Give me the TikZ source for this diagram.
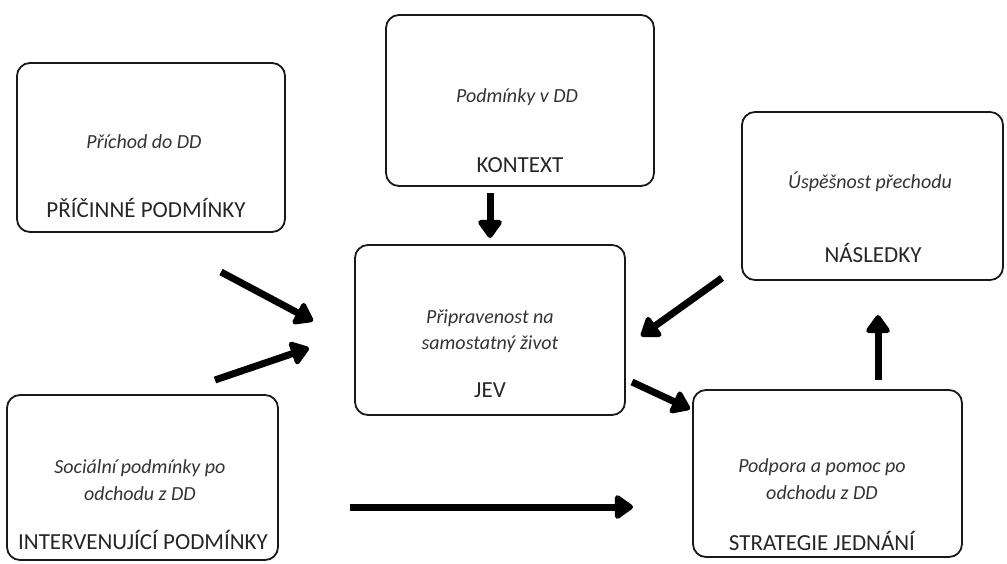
\documentclass[tikz,border=0pt]{standalone}
\usepackage{fontspec}
\setmainfont{Carlito}
\usetikzlibrary{arrows.meta}
\begin{document}
\begin{tikzpicture}[x=1pt,y=-1pt,
  box/.style={draw=black!90,line width=1.8pt,rounded corners=13pt,inner sep=0pt},
  ittext/.style={font=\fontsize{20}{24}\selectfont\itshape,text=black!80,inner sep=0pt,anchor=base},
  captext/.style={font=\fontsize{23}{26}\selectfont,text=black!85,inner sep=0pt,anchor=base},
  arr/.style={line width=7pt,-{Triangle[length=20pt,width=27pt,round]},black}]
\useasboundingbox (0,0) rectangle (1007,563);
% boxes
\node[box,minimum width=268pt,minimum height=169pt] (pric) at (151,147.5) {};
\node[box,minimum width=268pt,minimum height=171pt] (kont) at (520,100.5) {};
\node[box,minimum width=261pt,minimum height=168pt] (nasl) at (872.5,196) {};
\node[box,minimum width=270pt,minimum height=170pt] (jev) at (490,330) {};
\node[box,minimum width=271pt,minimum height=165pt] (interv) at (142.5,477.5) {};
\node[box,minimum width=269pt,minimum height=167pt] (strat) at (827.5,473.5) {};
% texts
\node[ittext] (t1) at (144,148) {Příchod do DD};
\node[captext] (c1) at (146,217) {PŘÍČINNÉ PODMÍNKY};
\node[ittext] (t2) at (517,102) {Podmínky v DD};
\node[captext] (c2) at (520,172) {KONTEXT};
\node[ittext] (t3) at (870,188) {Úspěšnost přechodu};
\node[captext] (c3) at (873,262) {NÁSLEDKY};
\node[ittext] (t4a) at (490,323) {Připravenost na};
\node[ittext] (t4b) at (490,349) {samostatný život};
\node[captext] (c4) at (490,397) {JEV};
\node[ittext] (t5a) at (140,473) {Sociální podmínky po};
\node[ittext] (t5b) at (140,500) {odchodu z DD};
\node[captext] (c5) at (143,549) {INTERVENUJÍCÍ PODMÍNKY};
\node[ittext] (t6a) at (822,472) {Podpora a pomoc po};
\node[ittext] (t6b) at (822,499) {odchodu z DD};
\node[captext] (c6) at (822,550) {STRATEGIE JEDNÁNÍ};
% arrow end points
\coordinate (a1s) at (490,193); \coordinate (a1e) at (490,238);
\coordinate (a2s) at (221,272); \coordinate (a2e) at (313,321);
\coordinate (a3s) at (215,380); \coordinate (a3e) at (309,348);
\coordinate (a4s) at (722,278); \coordinate (a4e) at (641,336);
\coordinate (a5s) at (632,382); \coordinate (a5e) at (690,409);
\coordinate (a6s) at (878,380); \coordinate (a6e) at (878,315);
\coordinate (a7s) at (350,507); \coordinate (a7e) at (633,507);
\draw[arr] (a1s) -- (a1e);
\draw[arr] (a2s) -- (a2e);
\draw[arr] (a3s) -- (a3e);
\draw[arr] (a4s) -- (a4e);
\draw[arr] (a5s) -- (a5e);
\draw[arr] (a6s) -- (a6e);
\draw[arr] (a7s) -- (a7e);
\end{tikzpicture}
\end{document}
